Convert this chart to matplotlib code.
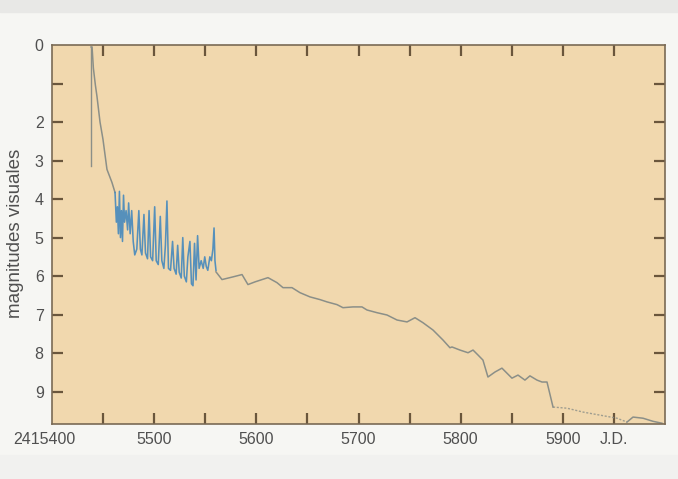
import matplotlib
matplotlib.use('Agg')
import matplotlib.pyplot as plt
import matplotlib.transforms as mtransforms
from matplotlib.patches import Rectangle

plt.rcParams['font.family'] = ['Liberation Sans', 'DejaVu Sans']

# ---- data (J.D. shown as 5xxx after 2415400 origin, visual magnitude) ----
jd_rise = [5438.2, 5438.2]
mag_rise = [3.15, 0.05]

jd_decline = [5438.2, 5439.2, 5440.5, 5442.5, 5444.0, 5447.0, 5449.9, 5453.8, 5458.7, 5461.7]
mag_decline = [0.05, 0.05, 0.60, 1.05, 1.33, 2.00, 2.45, 3.23, 3.57, 3.83]

jd_osc = [5461.7, 5463.0, 5464.0, 5465.0, 5466.0, 5467.0, 5468.0, 5469.0, 5470.0,
          5471.0, 5472.5, 5474.0, 5475.0, 5476.5, 5478.0, 5479.5, 5481.0, 5483.0,
          5485.0, 5486.5, 5488.0, 5490.0, 5491.5, 5493.5, 5495.0, 5496.5, 5498.5,
          5500.5, 5502.0, 5504.0, 5506.0, 5507.5, 5509.5, 5511.0, 5512.5, 5514.0,
          5516.0, 5518.0, 5519.5, 5521.5, 5523.0, 5524.5, 5526.5, 5528.0, 5529.5,
          5531.5, 5533.0, 5535.0, 5536.5, 5538.0, 5539.5, 5541.0, 5542.5, 5544.0,
          5546.0, 5548.0, 5549.5, 5551.0, 5552.5, 5554.5, 5556.0, 5557.5, 5558.6,
          5559.5, 5560.5]
mag_osc = [3.83, 4.60, 4.20, 4.90, 3.80, 5.00, 4.30, 5.10, 3.90,
           4.60, 4.30, 4.80, 4.10, 4.90, 4.30, 5.10, 5.45, 5.30,
           4.30, 5.30, 5.45, 4.40, 5.40, 5.55, 4.30, 5.50, 5.60,
           4.20, 5.60, 5.70, 4.45, 5.60, 5.80, 5.20, 4.05, 5.80,
           5.85, 5.10, 5.80, 5.95, 5.20, 5.90, 6.05, 5.00, 6.00,
           6.15, 5.50, 5.10, 6.20, 6.25, 5.15, 6.10, 4.95, 5.80,
           5.60, 5.80, 5.50, 5.75, 5.85, 5.50, 5.60, 5.30, 4.75,
           5.60, 5.85]

jd_tail = [5560.5, 5566.4, 5577.2, 5586.0, 5591.8, 5598.7, 5611.4, 5620.2, 5626.1,
           5634.9, 5642.7, 5652.5, 5662.3, 5669.2, 5678.9, 5684.8, 5694.6, 5703.4,
           5708.3, 5718.1, 5727.9, 5737.7, 5747.5, 5755.3, 5763.1, 5772.9, 5782.7,
           5789.5, 5791.5, 5799.3, 5807.2, 5812.1, 5817.0, 5821.8, 5826.7, 5833.6,
           5840.4, 5845.3, 5850.2, 5856.1, 5862.9, 5867.8, 5874.7, 5879.6, 5884.5,
           5890.4]
mag_tail = [5.89, 6.09, 6.02, 5.96, 6.22, 6.15, 6.04, 6.17, 6.30,
            6.30, 6.43, 6.54, 6.61, 6.67, 6.74, 6.82, 6.80, 6.80,
            6.88, 6.95, 7.01, 7.14, 7.19, 7.08, 7.21, 7.40, 7.66,
            7.86, 7.84, 7.92, 7.99, 7.92, 8.05, 8.18, 8.62, 8.49,
            8.39, 8.52, 8.65, 8.57, 8.70, 8.59, 8.70, 8.75, 8.75,
            9.40]

jd_dotted = [5890.4, 5904.1, 5919.7, 5936.4, 5953.0, 5962.8]
mag_dotted = [9.40, 9.43, 9.53, 9.61, 9.69, 9.79]

jd_end = [5962.8, 5968.7, 5978.5, 5988.2, 5997.0]
mag_end = [9.79, 9.66, 9.69, 9.77, 9.82]

x_ticks = [5400, 5450, 5500, 5550, 5600, 5650, 5700, 5750, 5800, 5850, 5900, 5950]
x_labels = ['2415400', '', '5500', '', '5600', '', '5700', '', '5800', '', '5900', 'J.D.']
y_ticks = [0, 1, 2, 3, 4, 5, 6, 7, 8, 9]
y_labels = ['0', '', '2', '3', '4', '5', '6', '7', '8', '9']
y_title = 'magnitudes visuales'

# ---- figure ----
W, H = 678, 479
fig = plt.figure(figsize=(W / 100, H / 100), dpi=100, facecolor='#f6f6f3')
fig.patches.append(Rectangle((0, 1 - 12 / H), 1, 12 / H, transform=fig.transFigure,
                             color='#e8e8e6', zorder=0))
fig.patches.append(Rectangle((0, 0), 1, 24 / H, transform=fig.transFigure,
                             color='#f1f1ef', zorder=0))

ax = fig.add_axes([52 / W, 1 - 424 / H, 613 / W, (424 - 45) / H])
ax.set_facecolor('#f1d8ae')

gray = '#8b8f88'
blue = '#4589bd'
ax.plot(jd_rise, mag_rise, color=gray, lw=1.0)
ax.plot(jd_decline, mag_decline, color=gray, lw=1.1)
ax.plot(jd_osc, mag_osc, color=blue, lw=1.15, alpha=0.9)
ax.plot(jd_tail, mag_tail, color=gray, lw=1.1)
ax.plot(jd_dotted, mag_dotted, color=gray, lw=1.0, linestyle=(0, (1.5, 1.2)), alpha=0.8)
ax.plot(jd_end, mag_end, color=gray, lw=1.1)

ax.set_xlim(5400, 6000)
ax.set_ylim(9.84, 0)

tick_color = '#6a563c'
text_color = '#505050'
ax.set_xticks(x_ticks)
ax.set_xticklabels(x_labels)
ax.set_yticks(y_ticks)
ax.set_yticklabels(y_labels)
ax.tick_params(axis='both', direction='in', length=8, width=1.6, color=tick_color,
               labelcolor=text_color, labelsize=11.5)
ax.tick_params(axis='x', top=True, bottom=True, pad=6)
ax.tick_params(axis='y', left=True, right=True, pad=6)
for t in ax.yaxis.get_major_ticks():
    if t.get_loc() == 0:
        t.tick1line.set_visible(False)
        t.tick2line.set_visible(False)
for t in ax.xaxis.get_major_ticks():
    if t.get_loc() == 5400:
        t.tick1line.set_visible(False)
        t.tick2line.set_visible(False)

off = mtransforms.ScaledTranslation(-8 / 100, 0, fig.dpi_scale_trans)
lab0 = ax.get_xticklabels()[0]
lab0.set_transform(lab0.get_transform() + off)

for s in ax.spines.values():
    s.set_color('#7a6a55')
    s.set_linewidth(1.2)

fig.text(16 / W, 1 - 233 / H, y_title, rotation=90, ha='center', va='center',
         fontsize=13.5, color=text_color)

fig.savefig('out.png', dpi=100, facecolor=fig.get_facecolor())
